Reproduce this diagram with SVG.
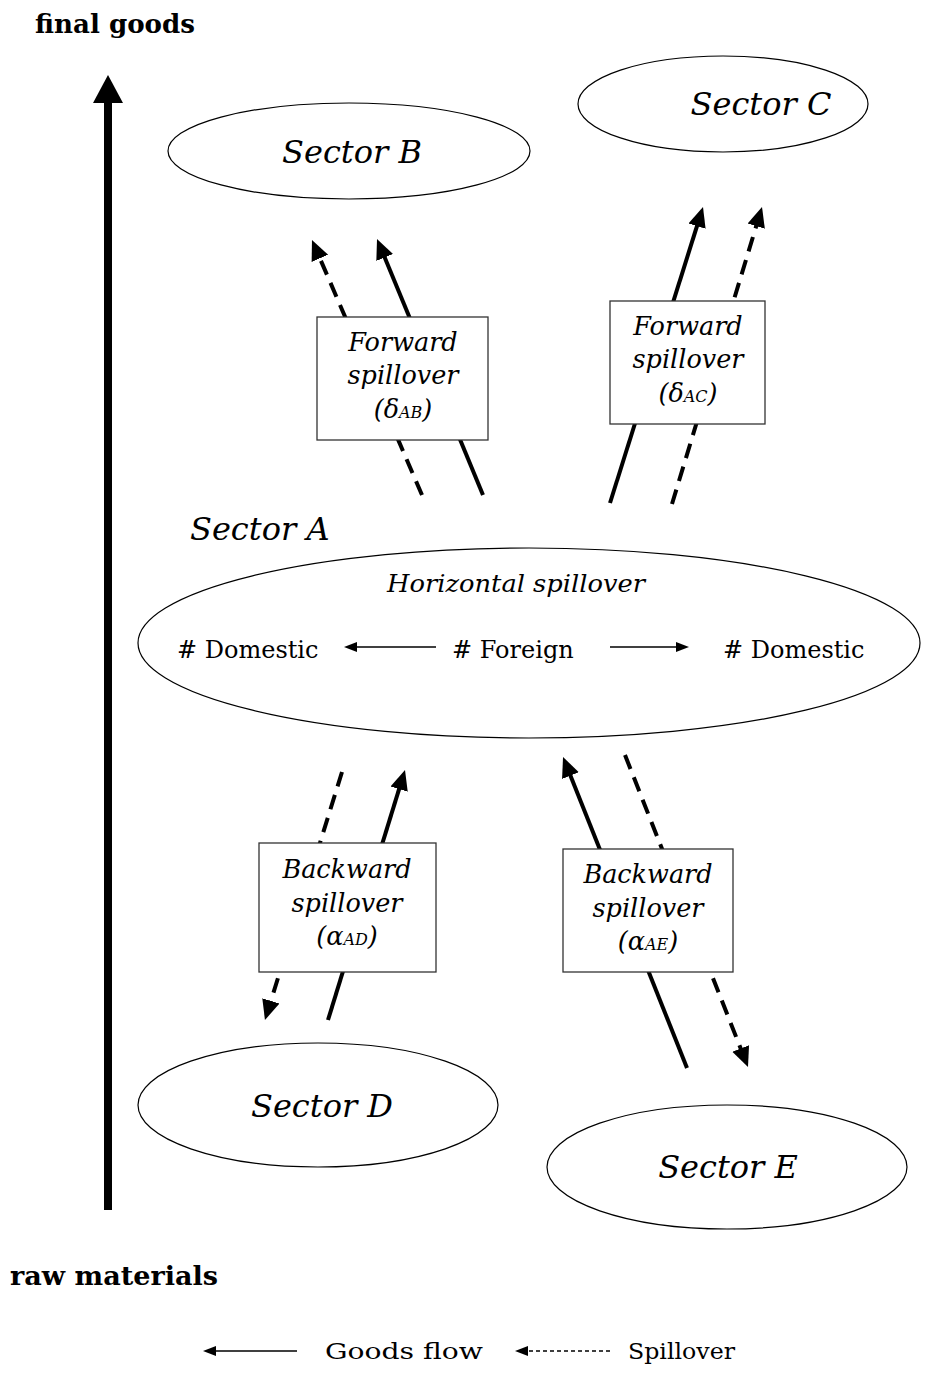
<svg xmlns="http://www.w3.org/2000/svg" width="940" height="1374" viewBox="0 0 940 1374">
<style>
.t{font-family:"DejaVu Serif","Liberation Serif",serif;fill:#000}
.it{font-style:italic}
.b{font-weight:bold}
.sec{font-size:32px;font-style:italic}
.box{fill:#fff;stroke:#333;stroke-width:1.3}
.ell{fill:#fff;stroke:#000;stroke-width:1.2}
.flow{stroke:#000;stroke-width:4;fill:none;marker-end:url(#ah)}
.spill{stroke:#000;stroke-width:4;fill:none;stroke-dasharray:15 9;marker-end:url(#ah)}
.thin{stroke:#000;stroke-width:1.5;fill:none;marker-end:url(#sh)}
.bl{font-size:25.5px;font-style:italic}
.sub{font-size:16px}
</style>
<defs>
<marker id="ah" markerUnits="userSpaceOnUse" markerWidth="22" markerHeight="20" refX="2" refY="10" orient="auto" viewBox="0 0 22 20"><path d="M0,1 L20,10 L0,19 z" fill="#000"/></marker>
<marker id="sh" markerUnits="userSpaceOnUse" markerWidth="14" markerHeight="12" refX="1" refY="6" orient="auto" viewBox="0 0 14 12"><path d="M0,1 L13,6 L0,11 z" fill="#000"/></marker>
</defs>
<rect width="940" height="1374" fill="#fff"/>

<g id="axis">
<line x1="108" y1="1210" x2="108" y2="100" stroke="#000" stroke-width="8"/>
<polygon points="93,103 108,75 123,103" fill="#000"/>
<text class="t b" x="35" y="33" font-size="26" textLength="160" lengthAdjust="spacingAndGlyphs">final goods</text>
<text class="t b" x="10" y="1285" font-size="26" textLength="208" lengthAdjust="spacingAndGlyphs">raw materials</text>
</g>

<g id="connectors">
<line class="spill" x1="422" y1="495" x2="319.1" y2="256.5"/>
<line class="flow" x1="483" y1="495" x2="383.9" y2="255.6"/>
<line class="flow" x1="610" y1="503" x2="697.6" y2="224.2"/>
<line class="spill" x1="672" y1="504" x2="756.8" y2="224.2"/>
<line class="flow" x1="328" y1="1020" x2="399.7" y2="787.2"/>
<line class="spill" x1="342" y1="772" x2="270.3" y2="1002.8"/>
<line class="flow" x1="687" y1="1068" x2="569.7" y2="773.7"/>
<line class="spill" x1="625" y1="755" x2="741.4" y2="1050.3"/>
</g>

<g id="sectorB">
<ellipse class="ell" cx="349" cy="151" rx="181" ry="48"/>
<text class="t sec" x="352" y="163" text-anchor="middle">Sector B</text>
</g>
<g id="sectorC">
<ellipse class="ell" cx="723" cy="104" rx="145" ry="48"/>
<text class="t sec" x="761" y="115" text-anchor="middle">Sector C</text>
</g>

<g id="forwardAB">
<rect class="box" x="317" y="317" width="171" height="123"/>
<text class="t bl" x="403" y="351" text-anchor="middle">Forward</text>
<text class="t bl" x="403" y="384" text-anchor="middle">spillover</text>
<text class="t bl" x="403" y="418" text-anchor="middle">(δ<tspan class="sub">AB</tspan>)</text>
</g>
<g id="forwardAC">
<rect class="box" x="610" y="301" width="155" height="123"/>
<text class="t bl" x="688" y="335" text-anchor="middle">Forward</text>
<text class="t bl" x="688" y="368" text-anchor="middle">spillover</text>
<text class="t bl" x="688" y="402" text-anchor="middle">(δ<tspan class="sub">AC</tspan>)</text>
</g>

<g id="sectorA">
<text class="t sec" x="190" y="540">Sector A</text>
<ellipse class="ell" cx="529" cy="643" rx="391" ry="95"/>
<text class="t it" x="387" y="592" font-size="24" textLength="258" lengthAdjust="spacingAndGlyphs">Horizontal spillover</text>
<text class="t" x="177" y="658" font-size="24">#  Domestic</text>
<text class="t" x="452" y="658" font-size="24">#  Foreign</text>
<text class="t" x="723" y="658" font-size="24">#  Domestic</text>
<line class="thin" x1="436" y1="647" x2="356" y2="647"/>
<line class="thin" x1="610" y1="647" x2="677" y2="647"/>
</g>

<g id="backwardAD">
<rect class="box" x="259" y="843" width="177" height="129"/>
<text class="t bl" x="347" y="878" text-anchor="middle">Backward</text>
<text class="t bl" x="347" y="912" text-anchor="middle">spillover</text>
<text class="t bl" x="347" y="945" text-anchor="middle">(α<tspan class="sub">AD</tspan>)</text>
</g>
<g id="backwardAE">
<rect class="box" x="563" y="849" width="170" height="123"/>
<text class="t bl" x="648" y="883" text-anchor="middle">Backward</text>
<text class="t bl" x="648" y="917" text-anchor="middle">spillover</text>
<text class="t bl" x="648" y="950" text-anchor="middle">(α<tspan class="sub">AE</tspan>)</text>
</g>

<g id="sectorD">
<ellipse class="ell" cx="318" cy="1105" rx="180" ry="62"/>
<text class="t sec" x="322" y="1117" text-anchor="middle">Sector D</text>
</g>
<g id="sectorE">
<ellipse class="ell" cx="727" cy="1167" rx="180" ry="62"/>
<text class="t sec" x="728" y="1178" text-anchor="middle">Sector E</text>
</g>

<g id="legend">
<line class="thin" x1="297" y1="1351" x2="215" y2="1351"/>
<text class="t" x="325" y="1359" font-size="23" textLength="158" lengthAdjust="spacingAndGlyphs">Goods flow</text>
<line class="thin" x1="610" y1="1351" x2="527" y2="1351" stroke-dasharray="4 3"/>
<text class="t" x="628" y="1359" font-size="23" textLength="107" lengthAdjust="spacingAndGlyphs">Spillover</text>
</g>
</svg>
